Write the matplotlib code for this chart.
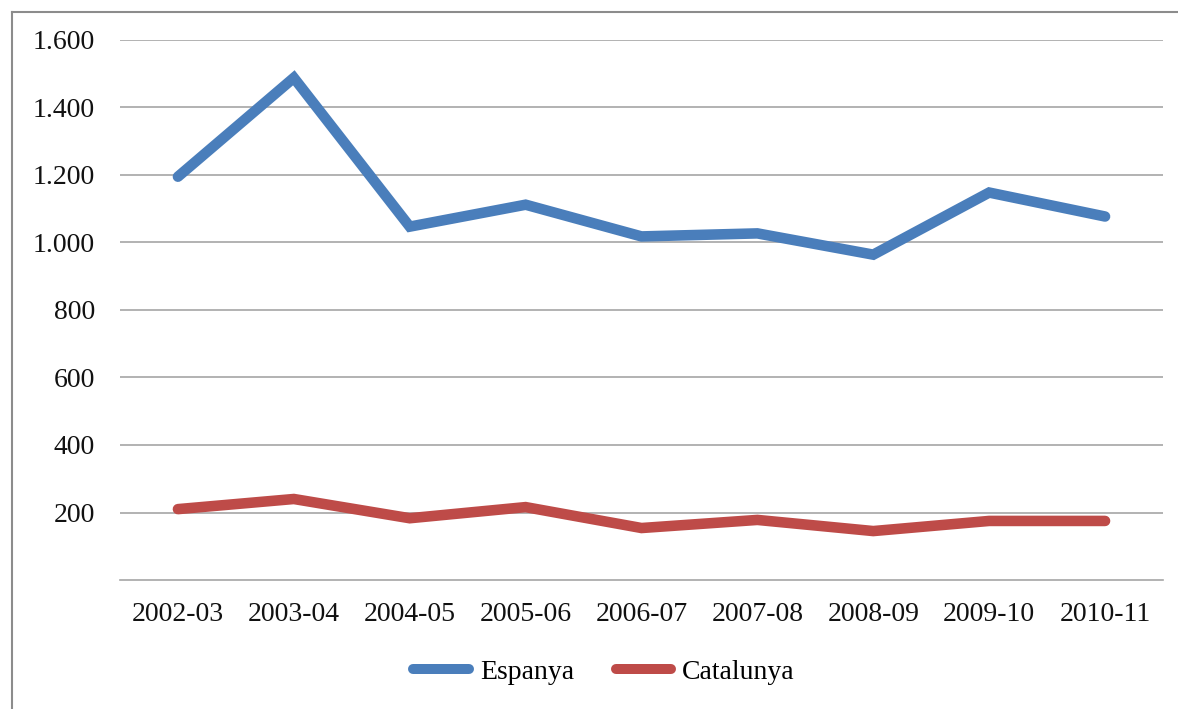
import matplotlib.pyplot as plt
from matplotlib.lines import Line2D
from matplotlib.ticker import FuncFormatter

# Dades
cursos = ['2002-03', '2003-04', '2004-05', '2005-06', '2006-07',
          '2007-08', '2008-09', '2009-10', '2010-11']
espanya = [1195, 1488, 1047, 1112, 1018, 1027, 964, 1148, 1077]
catalunya = [210, 240, 183, 216, 154, 178, 145, 175, 175]
yticks = [200, 400, 600, 800, 1000, 1200, 1400, 1600]


def main():
    plt.rcParams['font.family'] = ['Liberation Serif', 'DejaVu Serif']

    fig = plt.figure(figsize=(11.78, 7.09), dpi=100)
    ax = fig.add_axes([120 / 1178, 1 - 580 / 709, (1163 - 120) / 1178, (580 - 40) / 709])

    x = range(len(cursos))
    ax.plot(x, espanya, color='#4A7EBB', lw=7.6, solid_capstyle='round',
            solid_joinstyle='miter', label='Espanya', zorder=3)
    ax.plot(x, catalunya, color='#BE4B48', lw=7.6, solid_capstyle='round',
            solid_joinstyle='miter', label='Catalunya', zorder=3)

    ax.set_xlim(-0.5, len(cursos) - 0.5)
    ax.set_ylim(0, 1600)
    ax.set_xticks(list(x))
    ax.set_xticklabels(cursos)
    ax.set_yticks(yticks)
    ax.yaxis.set_major_formatter(FuncFormatter(lambda v, p: f'{int(v):,}'.replace(',', '.')))

    ax.grid(axis='y', color='#A6A6A6', lw=1.2)
    ax.axhline(0, color='#A6A6A6', lw=1.2, clip_on=False)
    for s in ax.spines.values():
        s.set_visible(False)
    ax.tick_params(length=0, labelsize=20, colors='#111111')
    ax.tick_params(axis='y', pad=18)
    ax.tick_params(axis='x', pad=16)

    handles = [Line2D([], [], color='#4A7EBB', lw=7.2, solid_capstyle='round'),
               Line2D([], [], color='#BE4B48', lw=7.2, solid_capstyle='round')]
    fig.legend(handles, ['Espanya', 'Catalunya'], loc='center', ncol=2,
               bbox_to_anchor=(604 / 1178, 1 - 672 / 709), frameon=False,
               fontsize=20, handlelength=2.0, handletextpad=0.4, columnspacing=1.5)

    # marc exterior
    fig.add_artist(Line2D([12 / 1178, 12 / 1178], [0, 1 - 12 / 709], color='#8C8C8C', lw=1.5))
    fig.add_artist(Line2D([12 / 1178, 1], [1 - 12 / 709, 1 - 12 / 709], color='#8C8C8C', lw=1.5))

    fig.savefig('out.png', dpi=100, facecolor='white')


if __name__ == '__main__':
    main()
